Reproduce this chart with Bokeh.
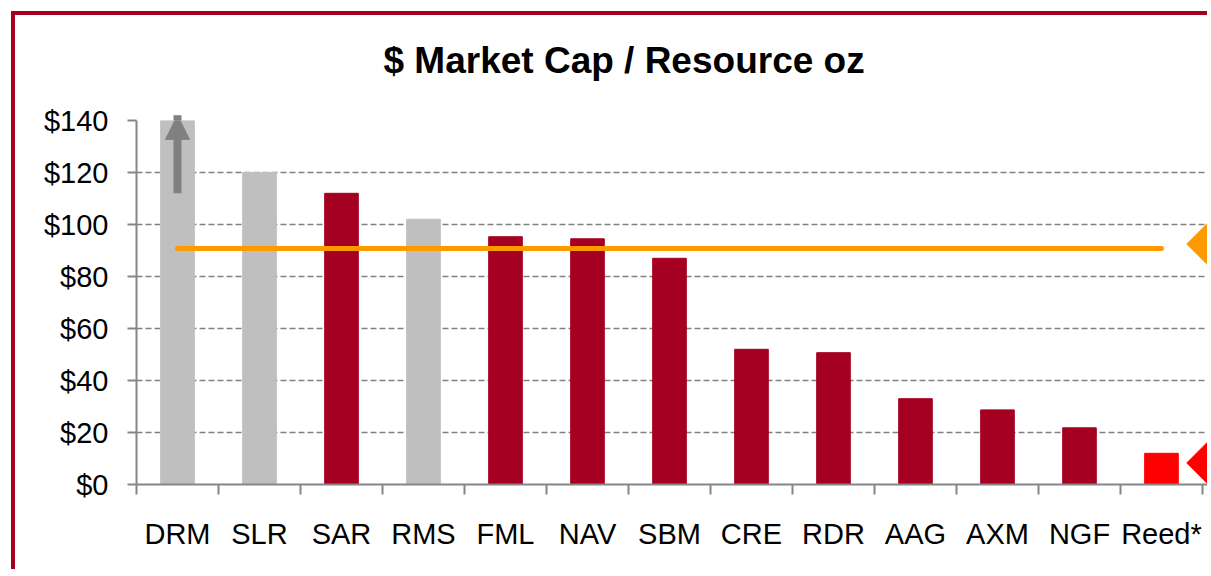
from bokeh.plotting import figure
from bokeh.models import (ColumnDataSource, FixedTicker, PrintfTickFormatter, Range1d,
                          Arrow, NormalHead, Title)
from bokeh.embed import file_html
from bokeh.resources import INLINE

# ---- data ----
categories = ["DRM", "SLR", "SAR", "RMS", "FML", "NAV", "SBM", "CRE", "RDR", "AAG", "AXM", "NGF", "Reed*"]
values = [140, 120, 112, 102, 95.3, 94.5, 87, 52, 50.7, 33, 28.7, 21.8, 12]
groups = ["other", "other", "peer", "other", "peer", "peer", "peer", "peer", "peer", "peer", "peer", "peer", "reed"]
peer_average = 90.8
pointer_values = [92.5, 8.3]          # right-hand pointers: peer level, Reed level
pointer_groups = ["average", "reed"]
drm_arrow = [112, 142]                # DRM exceeds the scale
y_ticks = [0, 20, 40, 60, 80, 100, 120, 140]
title_text = "$ Market Cap / Resource oz"

palette = {"other": "#BFBFBF", "peer": "#A50021", "reed": "#FF0000", "average": "#FF9900"}
FONT = "Liberation Sans"

n = len(categories)
xs = list(range(n))
pointer_x = n - 0.5 + 0.11

W, H = 1196, 558
p = figure(width=W, height=H, output_backend="svg", toolbar_location=None,
           x_range=Range1d(-0.5, pointer_x), y_range=Range1d(0, 140),
           min_border_left=121, min_border_right=0, min_border_top=105, min_border_bottom=89,
           styles={"margin": "11px 0 0 11px", "border-left": "4px solid #A50021",
                   "border-top": "4px solid #A50021"})
p.outline_line_color = None
p.background_fill_color = "white"
p.border_fill_color = "white"

src = ColumnDataSource(dict(x=xs, top=values, color=[palette[g] for g in groups]))
p.vbar(x="x", top="top", bottom=0, width=0.41, color="color", source=src)

# DRM off-scale arrow
p.add_layout(Arrow(end=NormalHead(size=24, fill_color="#808080", line_color="#808080"),
                   x_start=xs[0], y_start=drm_arrow[0], x_end=xs[0], y_end=drm_arrow[1],
                   line_color="#808080", line_width=8))

# peer average line
p.line(x=[xs[0], xs[-1]], y=[peer_average, peer_average], line_color=palette["average"],
       line_width=5, line_cap="round")

# right-hand pointers
p.scatter(x=[pointer_x] * len(pointer_values), y=pointer_values, marker="square",
          angle=0.785398, size=35, color=[palette[g] for g in pointer_groups])

# axes
xa = p.xaxis[0]
xa.ticker = FixedTicker(ticks=xs, minor_ticks=[i - 0.5 for i in range(n + 1)])
xa.major_label_overrides = {i: c for i, c in enumerate(categories)}
xa.major_tick_out = 0
xa.major_tick_in = 0
xa.minor_tick_out = 10
xa.minor_tick_in = 0
xa.minor_tick_line_color = "#868686"
xa.minor_tick_line_width = 2
xa.axis_line_color = "#868686"
xa.axis_line_width = 2
xa.major_label_text_font = FONT
xa.major_label_text_font_size = "29px"
xa.major_label_text_color = "black"
xa.major_label_standoff = 23

ya = p.yaxis[0]
ya.ticker = FixedTicker(ticks=y_ticks, minor_ticks=[])
ya.formatter = PrintfTickFormatter(format="$%d")
ya.major_tick_out = 9
ya.major_tick_in = 0
ya.major_tick_line_color = "#868686"
ya.major_tick_line_width = 2
ya.axis_line_color = "#868686"
ya.axis_line_width = 2
ya.major_label_text_font = FONT
ya.major_label_text_font_size = "29px"
ya.major_label_text_color = "black"
ya.major_label_standoff = 19

p.xgrid.grid_line_color = None
p.ygrid.grid_line_color = "#808080"
p.ygrid.grid_line_dash = "6 3"
p.ygrid.grid_line_width = 1.5

# title: a spacer panel next to the frame, then the title text
p.title.visible = False
p.add_layout(Title(text=" ", text_font_size="1px", standoff=37), "above")
p.add_layout(Title(text=title_text, text_font=FONT, text_font_style="bold",
                   text_font_size="37px", text_color="black", align="left",
                   offset=247, standoff=0), "above")

open("out.html", "w").write(file_html(p, INLINE))
